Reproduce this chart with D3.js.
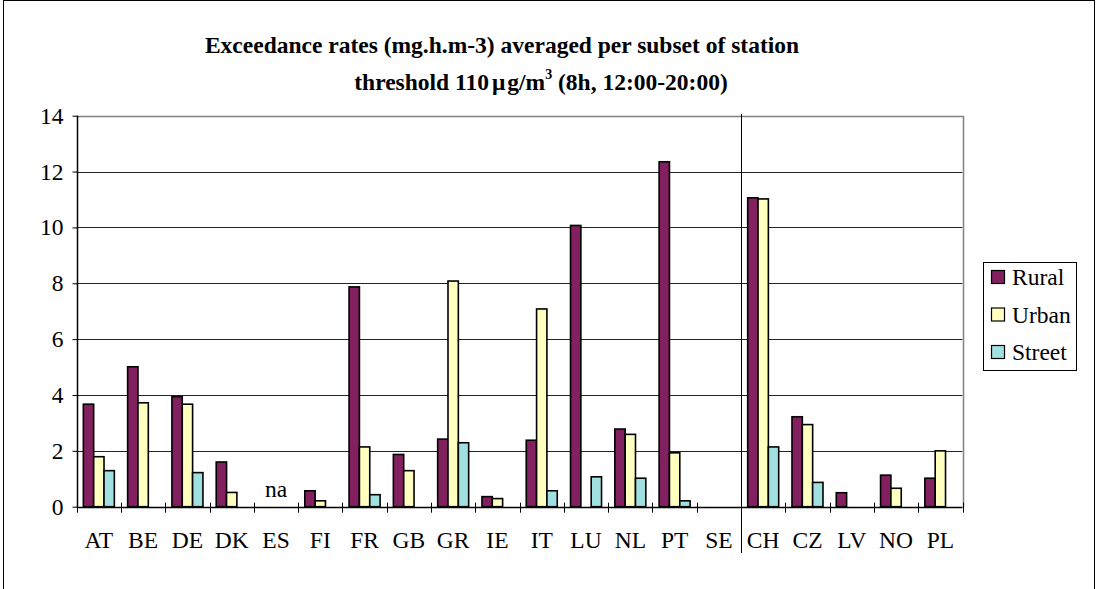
<!DOCTYPE html>
<html>
<head>
<meta charset="utf-8">
<script src="https://cdn.jsdelivr.net/npm/d3@7"></script>
<style>
  html, body { margin: 0; padding: 0; background: #fff; }
  svg { display: block; }
</style>
</head>
<body>
<svg id="chart" width="1096" height="589"></svg>
<script>
// Countries (the last five are shown after the divider line)
const countries = ["AT","BE","DE","DK","ES","FI","FR","GB","GR","IE","IT","LU","NL","PT","SE","CH","CZ","LV","NO","PL"];
const seriesNames = ["Rural", "Urban", "Street"];
const seriesColors = ["#822060", "#ffffc0", "#a0e0e0"];

// Exceedance rates per station type (null = no bar)
const rural  = [3.67, 5.01, 3.94, 1.60, null, 0.57, 7.87, 1.87, 2.42, 0.36, 2.38, 10.07, 2.78, 12.35, null, 11.06, 3.22, 0.50, 1.13, 1.02];
const urban  = [1.79, 3.72, 3.67, 0.51, null, 0.21, 2.14, 1.29, 8.08, 0.29, 7.08, null, 2.59, 1.93, null, 11.02, 2.94, null, 0.66, 2.00];
const street = [1.29, null, 1.22, null, null, null, 0.43, null, 2.29, null, 0.57, 1.07, 1.02, 0.21, null, 2.14, 0.87, null, null, null];

const yTicks = [0, 2, 4, 6, 8, 10, 12, 14];
const dividerAfter = "SE";
const naCountry = "ES";

const FONT = "'Liberation Serif', 'Times New Roman', Times, serif";
const FS = 23.5;

const svg = d3.select("#chart").attr("font-family", FONT);

// outer chart frame
svg.append("rect")
  .attr("x", 3.5).attr("y", 0.5)
  .attr("width", 1091).attr("height", 600)
  .attr("fill", "none").attr("stroke", "#000").attr("stroke-width", 1);

const plot = { left: 76.7, right: 962.5, top: 115.7, bottom: 506.7 };

const x = d3.scaleBand().domain(countries).range([plot.left, plot.right]).paddingInner(0).paddingOuter(0);
const xs = d3.scaleBand().domain(seriesNames)
  .range([x.bandwidth() * 0.15, x.bandwidth() * 0.85]).padding(0);
const y = d3.scaleLinear().domain([0, 14]).range([plot.bottom, plot.top]);

const px = v => Math.round(v) + 0.5;

// gridlines
svg.append("g").selectAll("line").data(yTicks.filter(t => t > 0 && t < 14)).join("line")
  .attr("x1", plot.left).attr("x2", plot.right)
  .attr("y1", d => px(y(d))).attr("y2", d => px(y(d)))
  .attr("stroke", "#222").attr("stroke-width", 1);

// plot area border (top and right)
svg.append("path")
  .attr("d", `M${plot.left},${px(y(14))}H${px(plot.right)}V${plot.bottom}`)
  .attr("fill", "none").attr("stroke", "#808080").attr("stroke-width", 1.5);

// bars
const series = [rural, urban, street];
const barData = [];
series.forEach((vals, si) => vals.forEach((v, ci) => {
  if (v != null) barData.push({ c: countries[ci], s: seriesNames[si], v, color: seriesColors[si] });
}));

svg.append("g").selectAll("rect").data(barData).join("rect")
  .attr("x", d => x(d.c) + xs(d.s))
  .attr("y", d => y(d.v))
  .attr("width", xs.bandwidth())
  .attr("height", d => y(0) - y(d.v))
  .attr("fill", d => d.color)
  .attr("stroke", "#000").attr("stroke-width", 1.6);

// y axis
const yAxis = d3.axisLeft(y).tickValues(yTicks).tickSize(5).tickPadding(9).tickFormat(d3.format("d"));
const gy = svg.append("g").attr("transform", `translate(${px(plot.left)},0)`).call(yAxis);
gy.attr("font-family", FONT);
gy.select(".domain").attr("stroke", "#000").attr("stroke-width", 1.5).attr("d", `M0,${y(14)}V${y(0)}`);
gy.selectAll(".tick line").attr("stroke", "#000");
gy.selectAll(".tick text").attr("font-size", FS);

// x axis: category labels, ticks at category boundaries
const gx = svg.append("g");
gx.append("line")
  .attr("x1", plot.left).attr("x2", plot.right)
  .attr("y1", px(plot.bottom)).attr("y2", px(plot.bottom))
  .attr("stroke", "#000").attr("stroke-width", 1.5);
const boundaries = countries.map(c => x(c)).concat([plot.right]);
gx.selectAll("line.tick").data(boundaries).join("line").attr("class", "tick")
  .attr("x1", d => px(d)).attr("x2", d => px(d))
  .attr("y1", plot.bottom - 4).attr("y2", plot.bottom + 6)
  .attr("stroke", "#000").attr("stroke-width", 1);
gx.selectAll("text").data(countries).join("text")
  .attr("x", d => x(d) + x.bandwidth() / 2)
  .attr("y", 548)
  .attr("text-anchor", "middle")
  .attr("font-size", FS)
  .text(d => d);

// divider between the two country groups
const divX = px(x(dividerAfter) + x.bandwidth());
svg.append("line")
  .attr("x1", divX).attr("x2", divX)
  .attr("y1", 114).attr("y2", 553)
  .attr("stroke", "#000").attr("stroke-width", 1);

// "na" marker
svg.append("text")
  .attr("x", x(naCountry) + x.bandwidth() / 2)
  .attr("y", 497)
  .attr("text-anchor", "middle")
  .attr("font-size", FS)
  .text("na");

// title
const title = svg.append("text")
  .attr("text-anchor", "middle")
  .attr("font-weight", "bold")
  .attr("font-size", FS);
title.append("tspan").attr("x", 502).attr("y", 53)
  .text("Exceedance rates (mg.h.m-3) averaged per subset of station");
const t2 = title.append("tspan").attr("x", 541).attr("y", 90);
t2.append("tspan").text("threshold 110");
t2.append("tspan").attr("dx", 3).text("μ");
t2.append("tspan").attr("dx", 2).text("g/m");
t2.append("tspan").attr("font-size", 14).attr("dy", -11).text("3");
t2.append("tspan").attr("dy", 11).text(" (8h, 12:00-20:00)");

// legend
const legend = svg.append("g");
legend.append("rect")
  .attr("x", 983.5).attr("y", 262.5).attr("width", 93).attr("height", 108)
  .attr("fill", "#fff").attr("stroke", "#000").attr("stroke-width", 1);
const items = legend.selectAll("g.item").data(seriesNames).join("g").attr("class", "item")
  .attr("transform", (d, i) => `translate(991,${277 + i * 37.5})`);
items.append("rect")
  .attr("x", 0.5).attr("y", -6.5).attr("width", 13).attr("height", 13)
  .attr("fill", (d, i) => seriesColors[i]).attr("stroke", "#000").attr("stroke-width", 1.2);
items.append("text")
  .attr("x", 21).attr("y", 8)
  .attr("font-size", FS)
  .text(d => d);

svg.selectAll("text").attr("fill", "#000");
</script>
</body>
</html>
